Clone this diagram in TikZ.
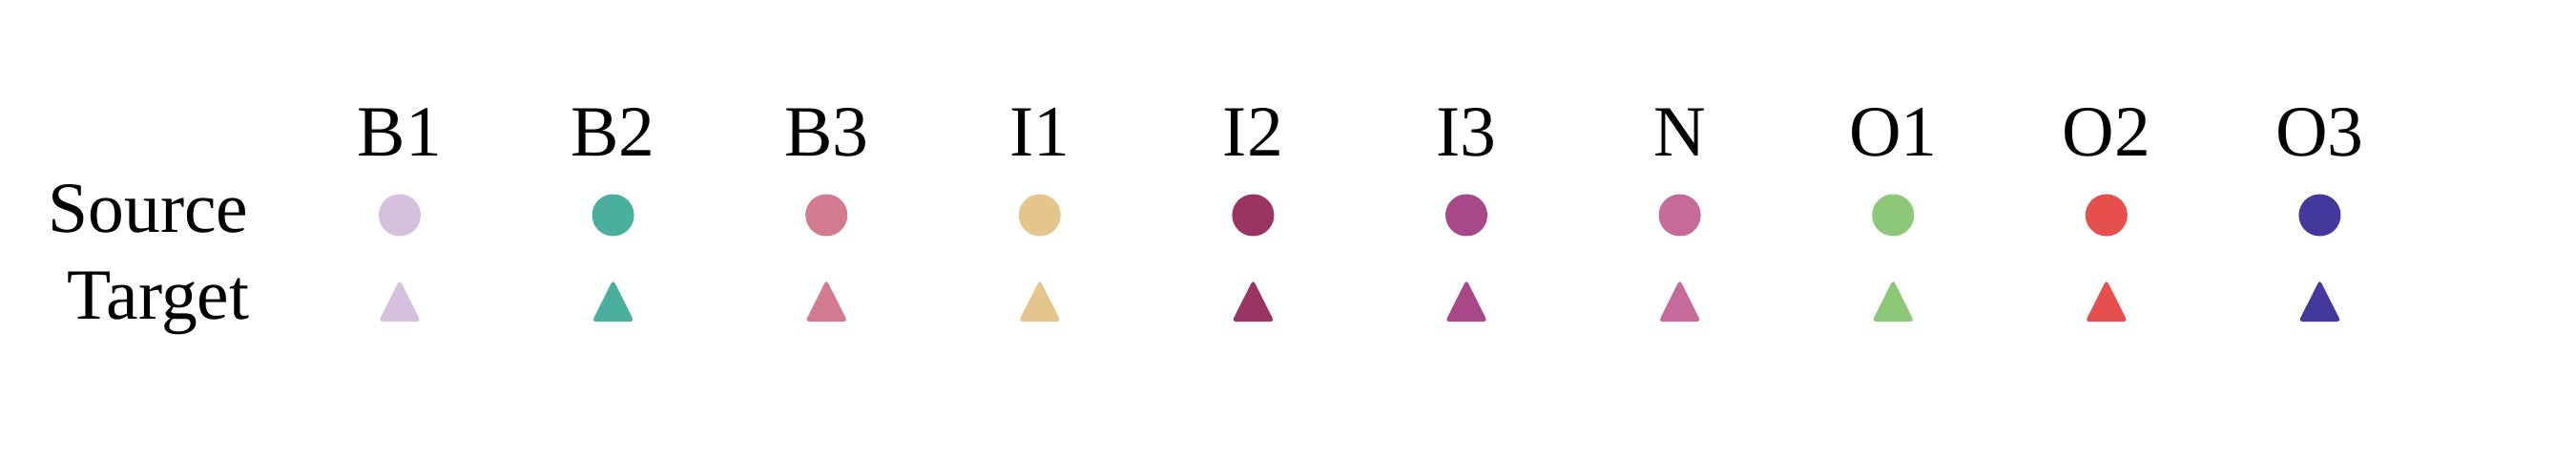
\documentclass[tikz,border=0pt]{standalone}
\usepackage{fontspec}
\setmainfont{Liberation Serif}
\usetikzlibrary{positioning}

\tikzset{
  headtext/.style={font=\fontsize{21.5}{26}\selectfont, inner sep=0pt},
}

\begin{document}
\begin{tikzpicture}
    \useasboundingbox (0,0) rectangle (27,-4.8);

    % Row labels
    \node[headtext, anchor=base east] (src) at (2.61,-2.44) {Source};
    \node[headtext, anchor=base east] (tgt) at (2.62,-3.35) {Target};

    % One column per class: label, source circle, target triangle
    \foreach \lbl/\hex [count=\i from 0] in {B1/D5C1DE, B2/4BAF9E, B3/D27A8F, I1/E4C58C, I2/9A3563,
                                             I3/A94888, N/C56A9B, O1/8DC878, O2/E5504D, O3/45389C} {
        \pgfmathsetmacro\cx{4.19+2.236*\i}
        \definecolor{mk}{HTML}{\hex}
        \node[headtext, anchor=base] (head\lbl) at (\cx,-1.64) {\lbl};
        \fill[mk] (\cx,-2.255) circle (0.22);
        \fill[mk, rounded corners=1.2pt] (\cx-0.222,-3.372) -- (\cx,-2.93) -- (\cx+0.222,-3.372) -- cycle;
    }
\end{tikzpicture}
\end{document}
